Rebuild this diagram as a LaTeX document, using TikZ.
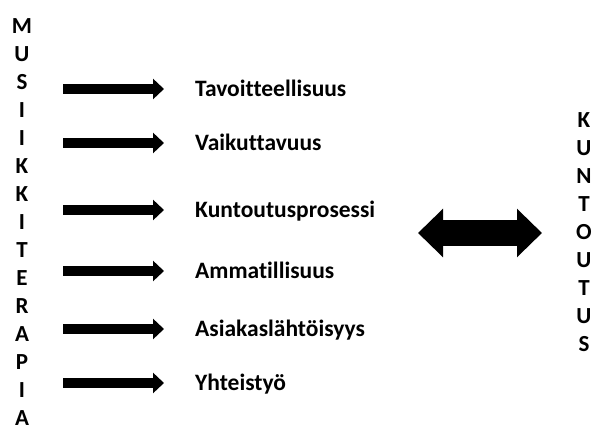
\documentclass[tikz,border=0pt]{standalone}
\usepackage{fontspec}
\setmainfont[Ligatures=NoCommon]{Carlito}
\usetikzlibrary{arrows.meta}

\tikzset{
  lbl/.style={anchor=base west, inner sep=0pt, font=\bfseries\fontsize{23.5}{28}\selectfont},
  vcol/.style={align=center, inner sep=0pt, font=\bfseries\fontsize{23}{#1}\selectfont},
  blk/.style={line width=10pt, -{Triangle[width=20pt,length=11pt]}, shorten >=31pt},
  dblk/.style={line width=26pt, {Triangle[width=47pt,length=25pt]}-{Triangle[width=47pt,length=25pt]}},
}

\begin{document}
\begin{tikzpicture}[x=1pt, y=-1pt]
        \useasboundingbox (0, 0) rectangle (595, 435);

        % vertical words
        \node[vcol=28] (musiikki) at (22, 222) {M\\U\\S\\I\\I\\K\\K\\I\\T\\E\\R\\A\\P\\I\\A};
        \node[vcol=28] (kuntoutus) at (584, 232) {K\\U\\N\\T\\O\\U\\T\\U\\S};

        % labels
        \node[lbl] (tav) at (195, 96.5) {Tavoitteellisuus};
        \node[lbl] (vai) at (195, 150.5) {Vaikuttavuus};
        \node[lbl] (kun) at (195, 217.5) {Kuntoutusprosessi};
        \node[lbl] (amm) at (195, 278.5) {Ammatillisuus};
        \node[lbl] (asi) at (195, 336.5) {Asiakaslähtöisyys};
        \node[lbl] (yht) at (195, 390.5) {Yhteistyö};

        \coordinate (a1) at (63, 89);
        \coordinate (a2) at (63, 143);
        \coordinate (a3) at (63, 210);
        \coordinate (a4) at (63, 271);
        \coordinate (a5) at (63, 329);
        \coordinate (a6) at (63, 383);

        \draw[blk] (a1) -- (a1 -| tav.west);
        \draw[blk] (a2) -- (a2 -| vai.west);
        \draw[blk] (a3) -- (a3 -| kun.west);
        \draw[blk] (a4) -- (a4 -| amm.west);
        \draw[blk] (a5) -- (a5 -| asi.west);
        \draw[blk] (a6) -- (a6 -| yht.west);

        % double arrow
        \coordinate (dl) at (418, 233);
        \coordinate (dr) at (542, 233);
        \draw[dblk] (dl) -- (dr);
    \end{tikzpicture}
\end{document}
